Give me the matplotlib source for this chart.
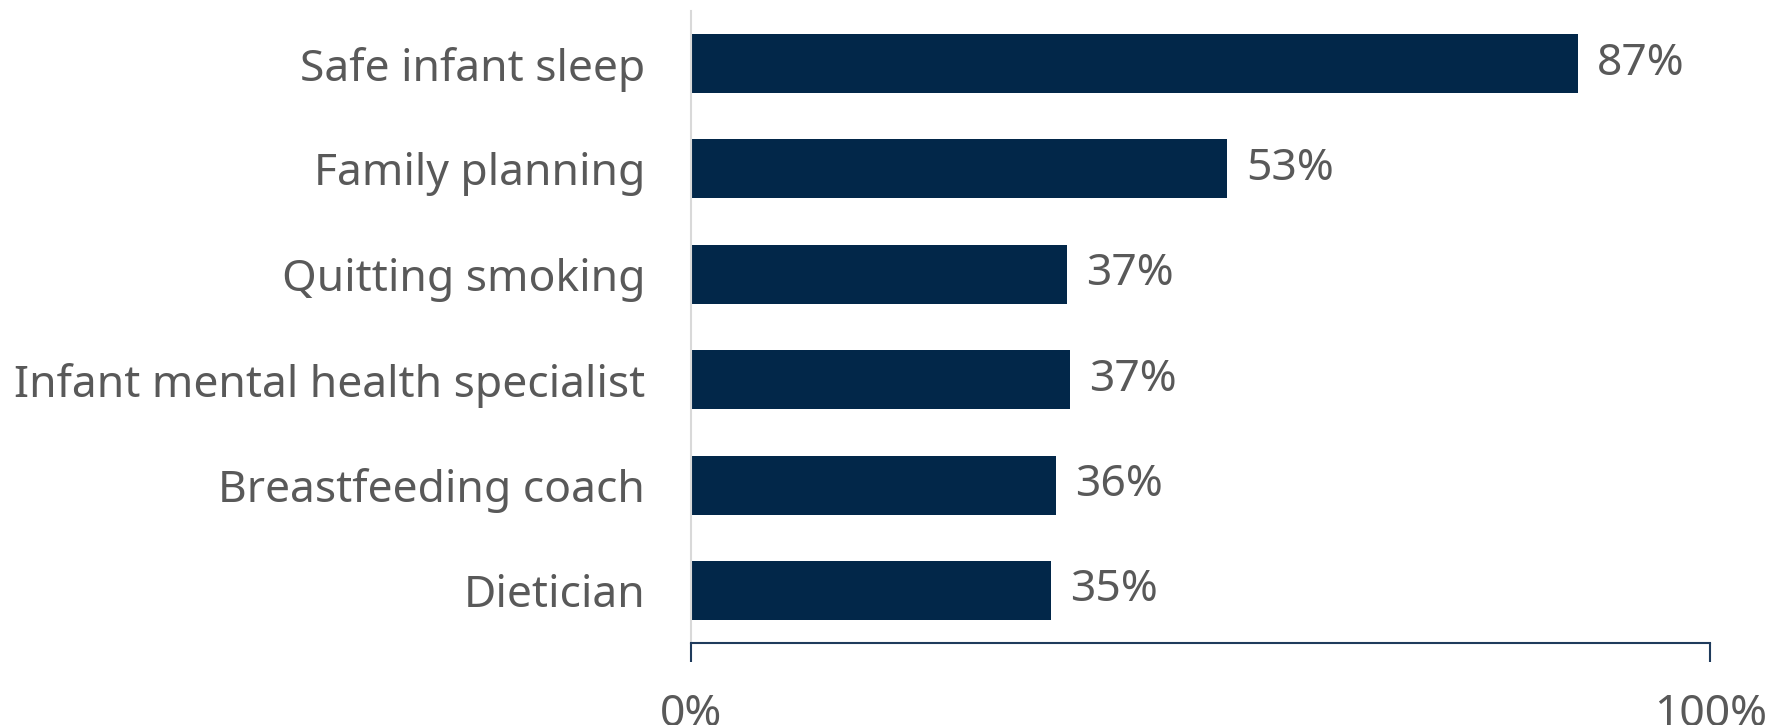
import matplotlib
matplotlib.use("Agg")
import matplotlib.pyplot as plt

# data
categories = ["Safe infant sleep", "Family planning", "Quitting smoking",
              "Infant mental health specialist", "Breastfeeding coach", "Dietician"]
values = [87.0, 52.6, 36.9, 37.2, 35.8, 35.3]
labels = ["87%", "53%", "37%", "37%", "36%", "35%"]

navy = "#022749"
grey = "#595959"
fs = 32
plt.rcParams["font.family"] = ["Noto Sans", "DejaVu Sans"]

fig = plt.figure(figsize=(17.76, 7.25), dpi=100)
ax = fig.add_axes([0.389, 0.113, 0.574, 0.872])

ypos = list(range(len(categories)))
ax.barh(ypos, values, height=0.56, color=navy)
for y, v, t in zip(ypos, values, labels):
  ax.text(v + 1.9, y, t, va="center", ha="left", fontsize=fs, color=grey)

ax.set_ylim(len(categories) - 0.5, -0.5)
ax.set_xlim(0, 100)
ax.set_yticks(ypos)
ax.set_yticklabels(categories, fontsize=fs, color=grey)
ax.tick_params(axis="y", length=0, pad=33)
ax.set_xticks([0, 100])
ax.set_xticklabels(["0%", "100%"], fontsize=fs, color=grey)
ax.tick_params(axis="x", length=14, width=1.5, color="#1f3b5c", pad=22)

for s in ["top", "right"]:
  ax.spines[s].set_visible(False)
ax.spines["left"].set_color("#d9d9d9")
ax.spines["left"].set_linewidth(1.5)
ax.spines["bottom"].set_color("#1f3b5c")
ax.spines["bottom"].set_linewidth(1.5)

fig.savefig("out.png", dpi=100)
